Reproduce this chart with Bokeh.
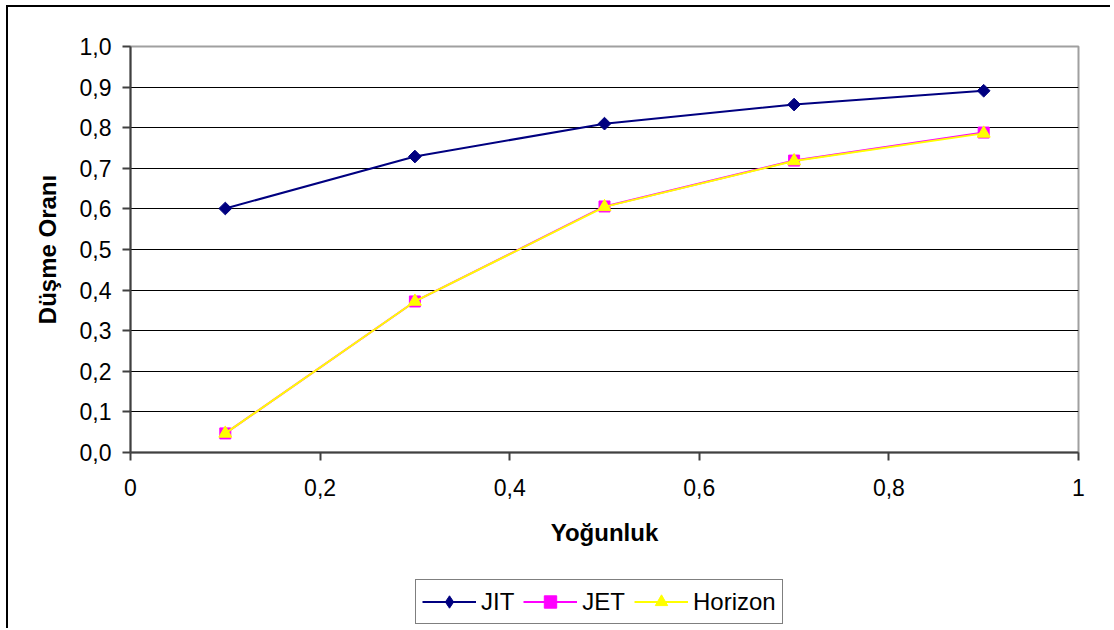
import math
from bokeh.plotting import figure
from bokeh.layouts import column
from bokeh.models import Legend, LegendItem, FixedTicker, ColumnDataSource
from bokeh.embed import file_html
from bokeh.resources import INLINE

x_vals = [0.1, 0.3, 0.5, 0.7, 0.9]
jit = [0.601, 0.729, 0.810, 0.857, 0.891]
jet = [0.047, 0.372, 0.606, 0.719, 0.788]
horizon = [0.047, 0.372, 0.605, 0.718, 0.786]
x_ticks = [0, 0.2, 0.4, 0.6, 0.8, 1.0]
y_ticks = [0.0, 0.1, 0.2, 0.3, 0.4, 0.5, 0.6, 0.7, 0.8, 0.9, 1.0]
x_tick_labels = ["0", "0,2", "0,4", "0,6", "0,8", "1"]
y_tick_labels = ["0,0", "0,1", "0,2", "0,3", "0,4", "0,5", "0,6", "0,7", "0,8", "0,9", "1,0"]
series_names = ["JIT", "JET", "Horizon"]

FONT = "Liberation Sans"
NAVY, MAGENTA, YELLOW = "#000080", "#FF00FF", "#FFFF00"

p = figure(width=1110, height=560, output_backend="svg", toolbar_location=None,
           x_range=(0, 1), y_range=(0, 1),
           min_border_left=130, min_border_right=32, min_border_top=46, min_border_bottom=108)

p.background_fill_color = "white"
p.border_fill_color = "white"
p.outline_line_color = "#a0a0a0"
p.outline_line_width = 2

p.xgrid.visible = False
p.ygrid.grid_line_color = "#000000"
p.ygrid.grid_line_width = 1

p.xaxis.ticker = FixedTicker(ticks=x_ticks)
p.yaxis.ticker = FixedTicker(ticks=y_ticks)
p.xaxis.major_label_overrides = {t: l for t, l in zip(x_ticks, x_tick_labels)}
p.yaxis.major_label_overrides = {t: l for t, l in zip(y_ticks, y_tick_labels)}
for ax in (p.xaxis, p.yaxis):
    ax.minor_tick_line_color = None
    ax.major_tick_in = 0
    ax.major_tick_out = 8
    ax.axis_line_color = "#404040"
    ax.axis_line_width = 2
    ax.major_tick_line_color = "#404040"
    ax.major_tick_line_width = 2
    ax.major_label_text_font = FONT
    ax.major_label_text_font_size = "23px"
    ax.major_label_text_color = "black"
    ax.axis_label_text_font = FONT
    ax.axis_label_text_font_size = "24px"
    ax.axis_label_text_font_style = "bold"
    ax.axis_label_text_color = "black"

p.xaxis.axis_label = "Yoğunluk"
p.yaxis.axis_label = "Düşme Oranı"
p.xaxis.major_label_standoff = 18
p.xaxis.axis_label_standoff = 20
p.yaxis.major_label_standoff = 11
p.yaxis.axis_label_standoff = 16

src = ColumnDataSource(dict(x=x_vals, jit=jit, jet=jet, hor=horizon))


def draw_series(fig, diamond_marker, diamond_size, diamond_angle):
    r = []
    r.append(fig.line("x", "jit", source=src, line_color=NAVY, line_width=2))
    r.append(fig.scatter("x", "jit", source=src, marker=diamond_marker, angle=diamond_angle,
                         size=diamond_size, fill_color=NAVY, line_color=NAVY))
    r.append(fig.line("x", "jet", source=src, line_color=MAGENTA, line_width=2))
    r.append(fig.scatter("x", "jet", source=src, marker="square", size=11,
                         fill_color=MAGENTA, line_color=MAGENTA))
    r.append(fig.line("x", "hor", source=src, line_color=YELLOW, line_width=2))
    r.append(fig.scatter("x", "hor", source=src, marker="triangle", size=13,
                         fill_color=YELLOW, line_color=YELLOW))
    return r


draw_series(p, "square", 9, math.pi / 4)

# legend strip below the chart (its own series renderers sit outside its visible range)
p2 = figure(width=1110, height=68, output_backend="svg", toolbar_location=None,
            x_range=(0, 1), y_range=(5, 6),
            min_border_left=0, min_border_right=0, min_border_top=0, min_border_bottom=0)
p2.axis.visible = False
p2.grid.visible = False
p2.outline_line_color = None
p2.background_fill_color = "white"
p2.border_fill_color = "white"

rs = draw_series(p2, "diamond", 14, 0)

legend = Legend(items=[
    LegendItem(label=series_names[0], renderers=rs[0:2]),
    LegendItem(label=series_names[1], renderers=rs[2:4]),
    LegendItem(label=series_names[2], renderers=rs[4:6]),
], orientation="horizontal", location=(285, 4))
legend.label_text_font = FONT
legend.label_text_font_size = "24px"
legend.label_text_color = "black"
legend.glyph_width = 54
legend.glyph_height = 31
legend.label_height = 23
legend.label_standoff = 5
legend.spacing = 9
legend.padding = 6
legend.margin = 0
legend.border_line_color = "#000000"
legend.border_line_width = 1
legend.background_fill_alpha = 1
p2.add_layout(legend, "center")

layout = column(p, p2, spacing=0)
layout.styles = {"position": "relative"}
layout.stylesheets = [":host::after { content: ''; position: absolute; left: 6px; top: 5px; "
                      "right: 0; bottom: 0; border-left: 2px solid black; border-top: 2px solid black; "
                      "pointer-events: none; z-index: 10; }"]

open("out.html", "w").write(file_html(layout, INLINE))
